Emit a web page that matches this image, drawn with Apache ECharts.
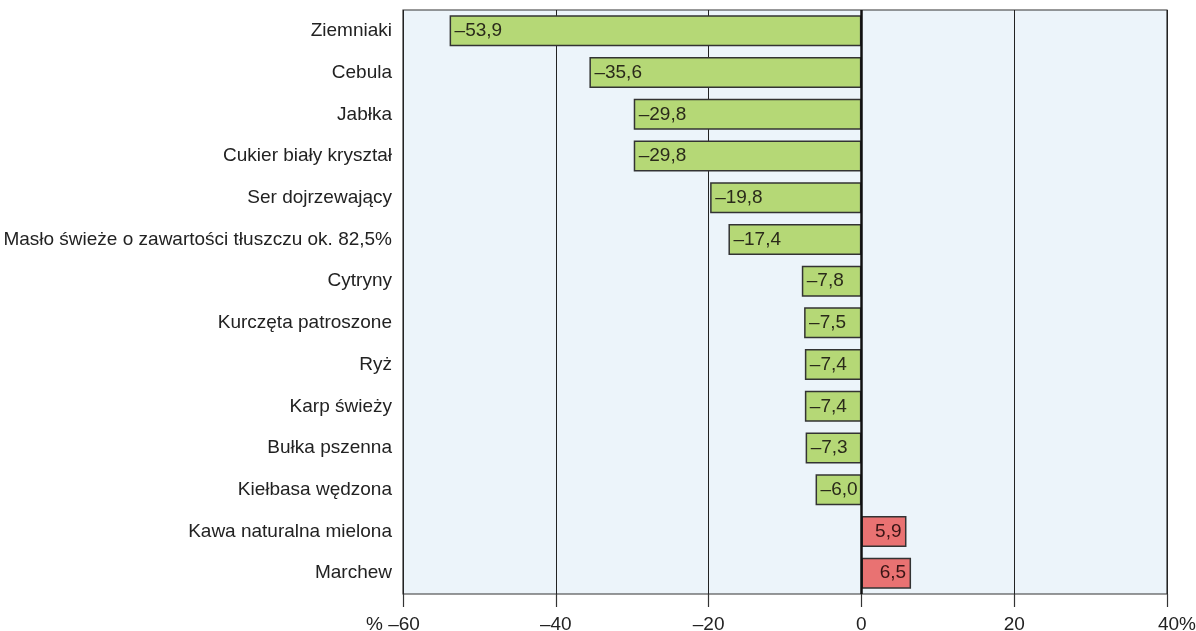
<!DOCTYPE html>
<html><head><meta charset="utf-8">
<script src="https://cdn.jsdelivr.net/npm/echarts@6/dist/echarts.min.js"></script>
<style>html,body{margin:0;padding:0;background:#fff}#c{width:1196px;height:631px}</style>
</head><body><div id="c"></div>
<script>
const categories = ["Ziemniaki","Cebula","Jabłka","Cukier biały kryształ","Ser dojrzewający","Masło świeże o zawartości tłuszczu ok. 82,5%","Cytryny","Kurczęta patroszone","Ryż","Karp świeży","Bułka pszenna","Kiełbasa wędzona","Kawa naturalna mielona","Marchew"];
const values = [-53.9,-35.6,-29.8,-29.8,-19.8,-17.4,-7.8,-7.5,-7.4,-7.4,-7.3,-6.0,5.9,6.5];
const xTicks = [-60,-40,-20,0,20,40];

const FF = 'Liberation Sans, Arial, sans-serif';
const FS = 19;
const fmt = v => (v<0?'–':'') + Math.abs(v).toFixed(1).replace('.', ',');
const chart = echarts.init(document.getElementById('c'));
chart.setOption({
  animation:false,
  grid:{left:403,right:29,top:10,bottom:37,show:true,outerBoundsMode:'none',containLabel:false,backgroundColor:'#ecf4fa',borderColor:'#333',borderWidth:1.2},
  xAxis:{type:'value',min:xTicks[0],max:xTicks[xTicks.length-1],interval:20,
    axisLine:{show:false},
    axisTick:{show:true,length:13,lineStyle:{color:'#333',width:1.2}},
    splitLine:{show:true,lineStyle:{color:'#222',width:1}},
    axisLabel:{fontFamily:FF,fontSize:FS,color:'#222',margin:21,
      formatter:function(v){
        const s=(v<0?'–':'')+Math.abs(v);
        if(v===-60) return '{p|% }{v|'+s+'}{s|}';
        if(v===40) return '{s|}{v|'+s+'}{p|%}';
        return s;
      },
      rich:{p:{fontSize:FS,color:'#222',fontFamily:FF},v:{fontSize:FS,color:'#222',fontFamily:FF},s:{width:20}}
    }},
  yAxis:{type:'category',data:categories,inverse:true,
    axisLine:{show:false},axisTick:{show:false},splitLine:{show:false},
    axisLabel:{fontFamily:FF,fontSize:FS,color:'#222',margin:11}},
  series:[{type:'bar',barWidth:31,
    data:values.map(v=>({value:v,
      itemStyle:{color:v<0?'#b5d876':'#e97272',borderColor:'#333',borderWidth:1.5},
      label:{show:true,position:v<0?'insideLeft':'insideRight',distance:5,
        formatter:()=>fmt(v),fontFamily:FF,fontSize:FS,color:v<0?'#2a2a1a':'#3a1515'}}))
  },{type:'line',data:[],markLine:{silent:true,symbol:'none',label:{show:false},lineStyle:{color:'#111',width:2.5,type:'solid'},data:[{xAxis:0}]}}]
});
</script></body></html>
